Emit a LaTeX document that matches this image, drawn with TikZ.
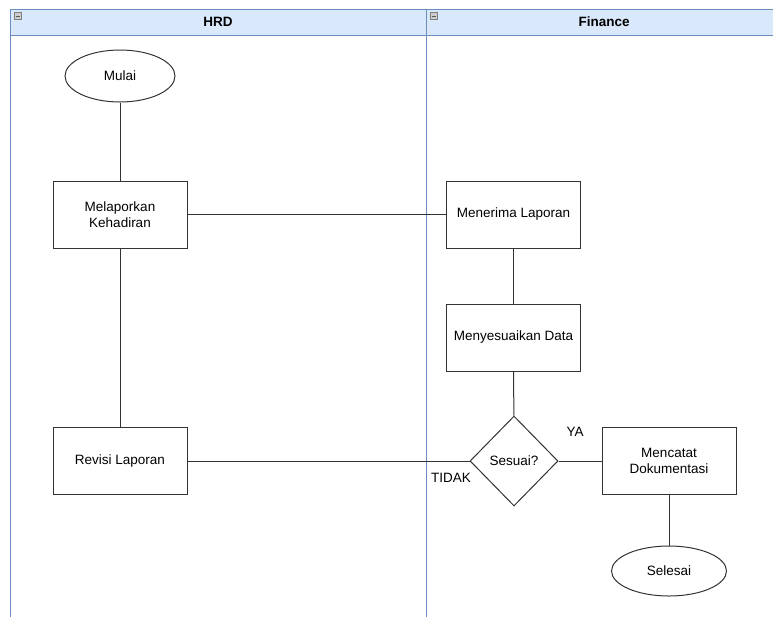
\documentclass[tikz,border=0pt]{standalone}
\usepackage{fontspec}
\setmainfont{Liberation Sans}
\usetikzlibrary{shapes.geometric}
\definecolor{hdrfill}{HTML}{DAE8FC}
\definecolor{hdrdraw}{HTML}{6C8EBF}
\definecolor{lnk}{HTML}{333333}
\tikzset{
  boxnode/.style={draw=lnk, line width=1pt, fill=white, minimum width=134pt, minimum height=67pt, align=center, inner sep=1pt, font=\fontsize{13.5}{15.5}\selectfont},
  ovalnode/.style={ellipse, draw=lnk, line width=1pt, fill=white, align=center, font=\fontsize{13.5}{15.5}\selectfont},
  decnode/.style={diamond, draw=lnk, line width=1pt, fill=white, minimum width=88pt, minimum height=90pt, inner sep=0pt, font=\fontsize{13.5}{15.5}\selectfont},
  conn/.style={draw=lnk, line width=1pt},
  lbl/.style={font=\fontsize{13.5}{15.5}\selectfont, inner sep=0pt},
  hdr/.style={font=\bfseries\fontsize{13.5}{15.5}\selectfont, inner sep=0pt},
  icon/.style={draw=gray, fill=gray!40, line width=0.4pt, minimum size=7pt, inner sep=0pt}
}
\begin{document}
\begin{tikzpicture}[x=1pt,y=-1pt]
\useasboundingbox (0,0) rectangle (773,616);
% lanes
\draw[hdrdraw, line width=0.8pt, fill=hdrfill] (10,9) rectangle (780,35);
\draw[hdrdraw, line width=0.8pt] (10,35) -- (10,620);
\draw[hdrdraw, line width=0.8pt] (426,9) -- (426,620);
\node[hdr] (hhrd) at (218,22) {HRD};
\node[hdr] (hfin) at (604,22) {Finance};
\node[icon] (ic1) at (17.5,16) {};
\node[icon] (ic2) at (433.5,16) {};
\draw[gray!70!black, line width=0.8pt] (15.5,16) -- (19.5,16);
\draw[gray!70!black, line width=0.8pt] (431.5,16) -- (435.5,16);
% nodes
\node[ovalnode, minimum width=110pt, minimum height=52pt] (mulai) at (120,76) {Mulai};
\node[boxnode] (lapor) at (120,214.5) {Melaporkan\\Kehadiran};
\node[boxnode] (revisi) at (120,461) {Revisi Laporan};
\node[boxnode] (terima) at (513.5,214.5) {Menerima Laporan};
\node[boxnode] (sesuaikan) at (513.5,337.5) {Menyesuaikan Data};
\node[decnode] (sesuai) at (514,461) {Sesuai?};
\node[boxnode] (catat) at (669,461) {Mencatat\\Dokumentasi};
\node[ovalnode, minimum width=115pt, minimum height=50pt] (selesai) at (669,571) {Selesai};
% connectors
\draw[conn] (mulai) -- (lapor);
\draw[conn] (lapor) -- (terima);
\draw[conn] (lapor) -- (revisi);
\draw[conn] (terima) -- (sesuaikan);
\draw[conn] (sesuaikan) -- (sesuai);
\draw[conn] (sesuai.west) -- (revisi.east);
\draw[conn] (sesuai.east) -- (catat.west);
\draw[conn] (catat) -- (selesai);
% labels
\node[lbl] (ya) at (575,432) {YA};
\node[lbl] (tidak) at (451,478) {TIDAK};
\end{tikzpicture}
\end{document}
